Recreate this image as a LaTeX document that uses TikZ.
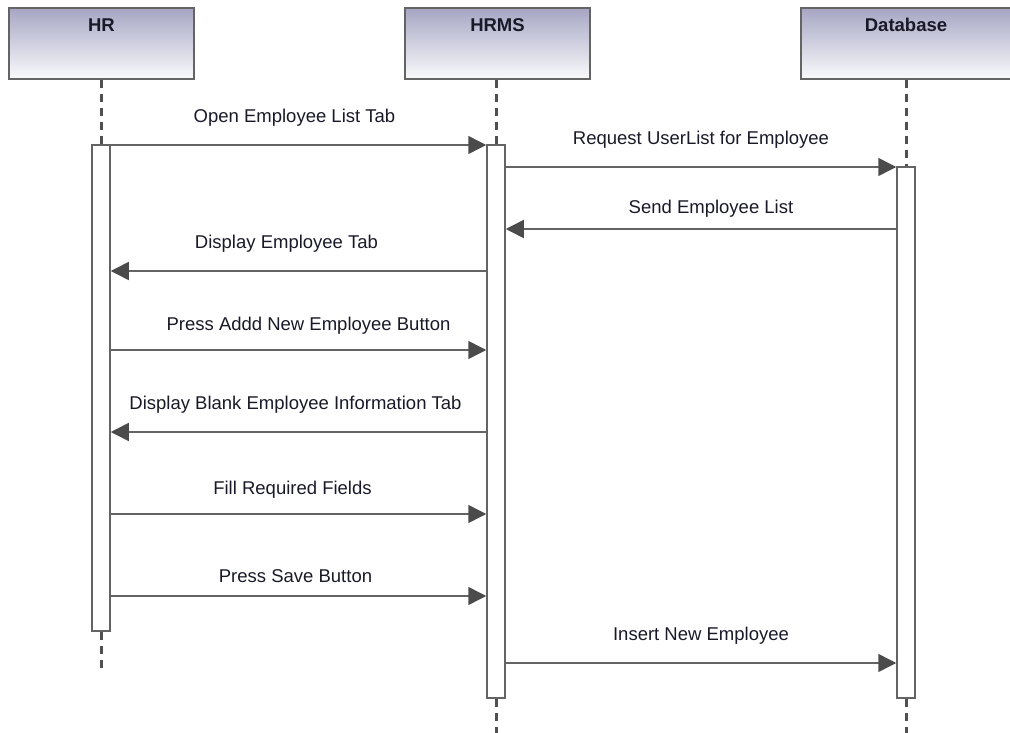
\documentclass[tikz,border=0pt]{standalone}
\usepackage{fontspec}
\setmainfont{Liberation Sans}
\usetikzlibrary{arrows.meta}
\definecolor{hdtop}{RGB}{166,166,196}
\definecolor{hdbot}{RGB}{250,250,252}
\definecolor{lncol}{RGB}{100,100,100}
\definecolor{tipcol}{RGB}{75,75,75}
\definecolor{txtcol}{RGB}{25,25,40}
\tikzset{
  headbox/.style={draw=lncol, line width=1.5pt, top color=hdtop, bottom color=hdbot, minimum height=71pt, inner sep=0pt},
  headtxt/.style={font=\fontsize{18.5}{21}\selectfont\bfseries, text=txtcol, anchor=north, inner sep=0pt},
  actbox/.style={draw=lncol, line width=1.5pt, fill=white, minimum width=18pt, inner sep=0pt},
  lifeline/.style={draw=lncol!80!black, line width=3pt, dash pattern=on 8pt off 6pt},
  msg/.style={draw=lncol, line width=1.5pt, -{Triangle[length=18pt,width=18pt,fill=tipcol,color=tipcol]}},
  msglbl/.style={font=\fontsize{18.5}{21}\selectfont, text=txtcol, anchor=base, inner sep=0pt, yshift=#1},
  msglbl/.default=23pt
}
\begin{document}
\begin{tikzpicture}[x=1pt,y=-1pt]
\useasboundingbox (0,0) rectangle (1010,733);
% heads
\node[headbox, minimum width=185pt] (HR) at (101.5,43.5) {};
\node[headbox, minimum width=185pt] (HRMS) at (497.5,43.5) {};
\node[headbox, minimum width=210pt] (DB) at (906,43.5) {};
\node[headtxt] (HRt) at ([yshift=-11pt]HR.north) {HR};
\node[headtxt] (HRMSt) at ([yshift=-11pt]HRMS.north) {HRMS};
\node[headtxt] (DBt) at ([yshift=-11pt]DB.north) {Database};
% activations
\node[actbox, minimum height=486pt] (aHR) at (101,388) {};
\node[actbox, minimum height=553pt] (aHRMS) at (496,421.5) {};
\node[actbox, minimum height=531pt] (aDB) at (906,432.5) {};
% lifelines
\coordinate (eHR) at (101,668);
\coordinate (eHRMS) at (496,733);
\coordinate (eDB) at (906,733);
\draw[lifeline] (HR.south -| aHR.north) -- (aHR.north);
\draw[lifeline] (aHR.south) -- (eHR);
\draw[lifeline] (HRMS.south -| aHRMS.north) -- (aHRMS.north);
\draw[lifeline] (aHRMS.south) -- (eHRMS);
\draw[lifeline] (DB.south -| aDB.north) -- (aDB.north);
\draw[lifeline] (aDB.south) -- (eDB);
\node[actbox, minimum height=486pt] at (aHR) {};
\node[actbox, minimum height=553pt] at (aHRMS) {};
\node[actbox, minimum height=531pt] at (aDB) {};
% messages
\draw[msg] (aHR.east |- 0,145) -- node[msglbl=22pt, midway, xshift=-4pt] (m1) {Open Employee List Tab} (aHRMS.west |- 0,145);
\draw[msg] (aHRMS.east |- 0,167) -- node[msglbl=22pt, midway] (m2) {Request UserList for Employee} (aDB.west |- 0,167);
\draw[msg] (aDB.west |- 0,229) -- node[msglbl=16pt, midway, xshift=10pt] (m3) {Send Employee List} (aHRMS.east |- 0,229);
\draw[msg] (aHRMS.west |- 0,271) -- node[msglbl, midway, xshift=-12pt] (m4) {Display Employee Tab} (aHR.east |- 0,271);
\draw[msg] (aHR.east |- 0,350) -- node[msglbl=20pt, midway, xshift=10pt] (m5) {Press Addd New Employee Button} (aHRMS.west |- 0,350);
\draw[msg] (aHRMS.west |- 0,432) -- node[msglbl, midway, xshift=-3pt] (m6) {Display Blank Employee Information Tab} (aHR.east |- 0,432);
\draw[msg] (aHR.east |- 0,514) -- node[msglbl=20pt, midway, xshift=-6pt] (m7) {Fill Required Fields} (aHRMS.west |- 0,514);
\draw[msg] (aHR.east |- 0,596) -- node[msglbl=14pt, midway, xshift=-3pt] (m8) {Press Save Button} (aHRMS.west |- 0,596);
\draw[msg] (aHRMS.east |- 0,663) -- node[msglbl, midway] (m9) {Insert New Employee} (aDB.west |- 0,663);
\end{tikzpicture}
\end{document}
